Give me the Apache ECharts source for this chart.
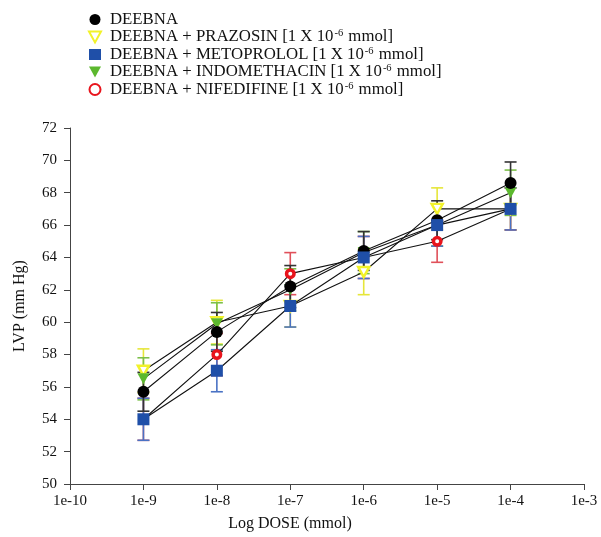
<!DOCTYPE html>
<html>
<head>
<meta charset="utf-8">
<script src="https://cdn.jsdelivr.net/npm/echarts@6/dist/echarts.min.js"></script>
<style>html,body{margin:0;padding:0;background:#fff}#c{width:601px;height:537px}</style>
</head>
<body>
<div id="c"></div>
<script>
// Data
const doses = [1e-9, 1e-8, 1e-7, 1e-6, 1e-5, 1e-4];
const xTicks = ['1e-10','1e-9','1e-8','1e-7','1e-6','1e-5','1e-4','1e-3'];
const seriesNames = ['DEEBNA', 'DEEBNA + PRAZOSIN', 'DEEBNA + METOPROLOL', 'DEEBNA + INDOMETHACIN', 'DEEBNA + NIFEDIFINE'];
const deebna = [55.7, 59.4, 62.2, 64.4, 66.3, 68.6];
const deebnaErr = [1.2, 1.2, 1.3, 1.2, 1.2, 1.3];
const prazosin = [57.0, 60.0, 61.0, 63.1, 67.0, 67.0];
const prazosinErr = [1.35, 1.35, 1.3, 1.4, 1.3, 1.3];
const metoprolol = [54.0, 57.0, 61.0, 64.0, 66.0, 67.0];
const metoprololErr = [1.3, 1.3, 1.3, 1.3, 1.3, 1.3];
const indomethacin = [56.5, 59.9, 62.0, 64.3, 66.0, 68.0];
const indomethacinErr = [1.3, 1.3, 1.3, 1.3, 1.3, 1.4];
const nifedifine = [54.0, 58.0, 63.0, 64.0, 65.0, 67.0];
const nifedifineErr = [1.3, 1.3, 1.3, 1.3, 1.3, 1.3];

const FONT = 'Liberation Serif';
const chart = echarts.init(document.getElementById('c'), null, {renderer: 'canvas'});

function pts(vals) { return doses.map((d, i) => [d, vals[i]]); }
function errPts(vals, errs) { return doses.map((d, i) => [d, vals[i], errs[i]]); }

function errSeries(name, vals, errs, color) {
  return {
    type: 'custom', name: name, z: 1, silent: true,
    data: errPts(vals, errs),
    encode: {x: 0, y: 1},
    renderItem: function (params, api) {
      const x = api.value(0), y = api.value(1), e = api.value(2);
      const t = api.coord([x, y + e]), b = api.coord([x, y - e]);
      const w = 6;
      const st = {stroke: color, lineWidth: 1.6};
      return {type: 'group', children: [
        {type: 'line', shape: {x1: t[0], y1: t[1], x2: b[0], y2: b[1]}, style: st},
        {type: 'line', shape: {x1: t[0] - w, y1: t[1], x2: t[0] + w, y2: t[1]}, style: st},
        {type: 'line', shape: {x1: b[0] - w, y1: b[1], x2: b[0] + w, y2: b[1]}, style: st}
      ]};
    }
  };
}

const invTri = 'path://M0,0 L10,0 L5,9 Z';

function lineSeries(name, vals, symbol, size, itemStyle, z) {
  return {
    type: 'line', name: name, data: pts(vals), z: z,
    symbol: symbol, symbolSize: size, showSymbol: true,
    lineStyle: {color: '#111', width: 1.1},
    itemStyle: itemStyle,
    emphasis: {disabled: true}
  };
}

const option = {
  backgroundColor: '#fff',
  animation: false,
  textStyle: {fontFamily: FONT},
  grid: {left: 70, right: 17, top: 128, bottom: 50, containLabel: false},
  legend: {
    orient: 'vertical', left: 83, top: 6,
    itemWidth: 12, itemHeight: 11, itemGap: 0,
    selectedMode: false,
    data: [
      {name: seriesNames[0], icon: 'circle'},
      {name: seriesNames[1], icon: invTri},
      {name: seriesNames[2], icon: 'rect'},
      {name: seriesNames[3], icon: invTri},
      {name: seriesNames[4], icon: 'circle'}
    ],
    formatter: function (name) {
      if (name === 'DEEBNA') return '{a|DEEBNA}';
      return '{a|' + name + ' [1 X 10}{s|-6}{a| mmol]}';
    },
    textStyle: {
      fontFamily: FONT, color: '#111', padding: [0, 0, 0, 4],
      rich: {
        a: {fontFamily: FONT, fontSize: 16.8, color: '#111', lineHeight: 18},
        s: {fontFamily: FONT, fontSize: 10.5, color: '#111', lineHeight: 9, verticalAlign: 'top', padding: [0, 1, 0, 1]}
      }
    }
  },
  xAxis: {
    type: 'log', logBase: 10, min: 1e-10, max: 1e-3,
    name: 'Log DOSE (mmol)', nameLocation: 'middle', nameGap: 32,
    nameTextStyle: {fontFamily: FONT, fontSize: 16, color: '#111', padding: [0, 74, 0, 0]},
    axisLine: {show: true, lineStyle: {color: '#444', width: 1}},
    axisTick: {show: true, length: 6, lineStyle: {color: '#444'}},
    axisLabel: {
      fontFamily: FONT, fontSize: 15, color: '#111', margin: 10,
      formatter: function (v) {
        const k = Math.round(Math.log10(v));
        const lbl = '1e' + k;
        return xTicks.indexOf(lbl) >= 0 ? lbl : '';
      }
    },
    splitLine: {show: false}
  },
  yAxis: {
    type: 'value', min: 50, max: 72, interval: 2,
    name: 'LVP (mm Hg)', nameLocation: 'middle', nameGap: 42,
    nameTextStyle: {fontFamily: FONT, fontSize: 16, color: '#111'},
    axisLine: {show: true, lineStyle: {color: '#444', width: 1}},
    axisTick: {show: true, length: 6, lineStyle: {color: '#444'}},
    axisLabel: {fontFamily: FONT, fontSize: 15, color: '#111', margin: 13},
    splitLine: {show: false}
  },
  series: [
    errSeries('e1', prazosin, prazosinErr, '#e6e63a'),
    errSeries('e3', indomethacin, indomethacinErr, '#7cc04a'),
    errSeries('e4', nifedifine, nifedifineErr, '#e0505a'),
    errSeries('e2', metoprolol, metoprololErr, '#4a72c4'),
    errSeries('e0', deebna, deebnaErr, '#333333'),
    lineSeries(seriesNames[1], prazosin, invTri, [11, 10], {color: '#ffffff', borderColor: '#f2f22a', borderWidth: 2.5}, 3),
    lineSeries(seriesNames[3], indomethacin, invTri, [12, 11], {color: '#5cb82e', borderColor: '#5cb82e', borderWidth: 0}, 4),
    lineSeries(seriesNames[4], nifedifine, 'circle', 7.5, {color: '#ffffff', borderColor: '#e8141c', borderWidth: 3.5}, 5),
    lineSeries(seriesNames[0], deebna, 'circle', 12, {color: '#000000', borderColor: '#000', borderWidth: 0}, 6),
    lineSeries(seriesNames[2], metoprolol, 'rect', 12, {color: '#1f4fa8', borderColor: '#1f4fa8', borderWidth: 0}, 7)
  ]
};
chart.setOption(option);
</script>
</body>
</html>
